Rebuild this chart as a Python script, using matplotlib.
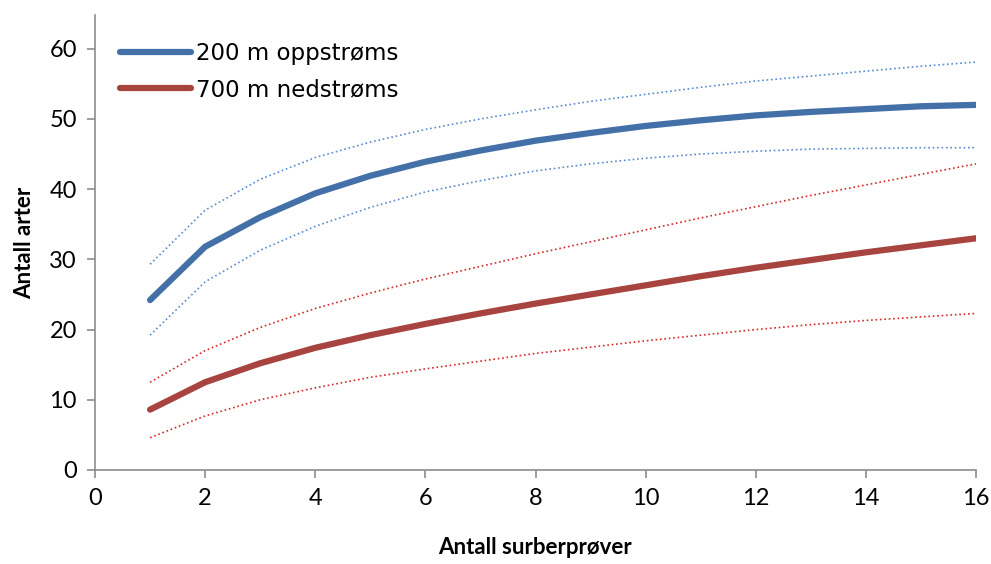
import numpy as np
import matplotlib.pyplot as plt

x = np.arange(1, 17)

up_mean = [24.2, 31.8, 36.0, 39.4, 41.9, 43.9, 45.5, 46.9, 48.0, 49.0, 49.8, 50.5, 51.0, 51.4, 51.8, 52.0]
up_hi = [29.3, 37.0, 41.4, 44.5, 46.7, 48.5, 50.0, 51.3, 52.5, 53.5, 54.5, 55.4, 56.1, 56.8, 57.5, 58.1]
up_lo = [19.2, 26.8, 31.3, 34.7, 37.4, 39.6, 41.2, 42.6, 43.6, 44.4, 45.0, 45.4, 45.7, 45.8, 45.9, 45.9]

down_mean = [8.6, 12.5, 15.2, 17.4, 19.2, 20.8, 22.3, 23.7, 25.0, 26.3, 27.6, 28.8, 29.9, 31.0, 32.0, 33.0]
down_hi = [12.5, 17.0, 20.3, 23.0, 25.2, 27.2, 29.0, 30.8, 32.5, 34.2, 35.9, 37.5, 39.1, 40.6, 42.1, 43.6]
down_lo = [4.6, 7.7, 10.0, 11.7, 13.2, 14.4, 15.5, 16.6, 17.5, 18.4, 19.2, 20.0, 20.7, 21.3, 21.8, 22.3]

labels = ['200 m oppstrøms', '700 m nedstrøms']

fig = plt.figure(figsize=(9.91, 5.64), dpi=100)
ax = fig.add_axes([95/991, 94/564, 881/991, 455/564])
ax.spines['right'].set_visible(False)
ax.spines['top'].set_visible(False)
for s in ['left', 'bottom']:
    ax.spines[s].set_color('#8c8c8c')
    ax.spines[s].set_linewidth(1.2)

ax.plot(x, up_hi, ':', color='#5a8ad0', lw=1.2)
ax.plot(x, up_lo, ':', color='#5a8ad0', lw=1.2)
ax.plot(x, down_hi, ':', color='#d42a2a', lw=1.2)
ax.plot(x, down_lo, ':', color='#d42a2a', lw=1.2)
ax.plot(x, up_mean, color='#4470a8', lw=4.5, solid_capstyle='round',
        solid_joinstyle='round', label=labels[0])
ax.plot(x, down_mean, color='#a84440', lw=4.5, solid_capstyle='round',
        solid_joinstyle='round', label=labels[1])

ax.set_xlim(0, 16)
ax.set_ylim(0, 64.8)
ax.set_xticks(range(0, 17, 2))
ax.set_yticks(range(0, 61, 10))
ax.tick_params(direction='out', length=6, width=1.2, color='#8c8c8c',
               labelsize=17, pad=7)
for t in ax.get_xticklabels() + ax.get_yticklabels():
    t.set_family('Lato')

ax.set_xlabel('Antall surberprøver', fontsize=16, fontweight='bold', family='Lato', labelpad=20)
ax.set_ylabel('Antall arter', fontsize=16, fontweight='bold', family='Lato', labelpad=10)

h, l = ax.get_legend_handles_labels()
ax.legend(h, l, loc='upper left', bbox_to_anchor=(0.005, 0.985), frameon=False,
          prop={'family': 'DejaVu Sans', 'size': 16.5}, handlelength=3.1,
          handletextpad=0.2, labelspacing=0.55)

plt.savefig('out.png', dpi=100)
